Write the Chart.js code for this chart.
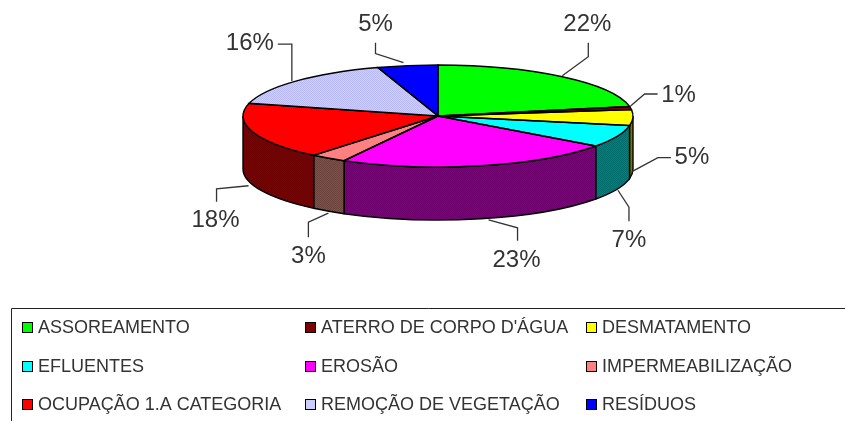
<!DOCTYPE html>
<html>
<head>
<meta charset="utf-8">
<title>Pizza 3D</title>
<script src="https://cdn.jsdelivr.net/npm/chart.js@4"></script>
<style>
  html, body { margin: 0; padding: 0; background: #fff; }
  canvas { display: block; }
</style>
</head>
<body>
<canvas id="chart" width="845" height="421"></canvas>
<script>
// data
const categories = ['ASSOREAMENTO', "ATERRO DE CORPO D'ÁGUA", 'DESMATAMENTO', 'EFLUENTES', 'EROSÃO',
                    'IMPERMEABILIZAÇÃO', 'OCUPAÇÃO 1.A CATEGORIA', 'REMOÇÃO DE VEGETAÇÃO', 'RESÍDUOS'];
const shares = [22, 1, 5, 7, 23, 3, 18, 16, 5];

// colours
const topColors  = ['#00ff00', '#800000', '#ffff00', '#00ffff', '#ff00ff', '#ff8080', '#ff0000', '#ccccff', '#0000ff'];
const wallColors = ['#008000', '#400000', '#808000', '#008080', '#800080', '#805048', '#800000', '#666680', '#000080'];

// 3D look of the pie
const CX = 438, CY = 116, RX = 195, RY = 51, DEPTH = 53;

// leader line and label offsets, relative to the rim point of each slice
const leaders = [
    { pts: [[0, -1], [26, -20], [26, -34]],  label: [25, -52] },
    { pts: [[0, -2], [14, -14], [27, -14]],  label: [48, -13] },
    { pts: [[-1, 1], [25, -13], [38, -13]],  label: [59, -13] },
    { pts: [[1, 1], [12, 18], [12, 32]],     label: [12, 51] },
    { pts: [[8, 1], [37, 9], [37, 22]],      label: [36, 42] },
    { pts: [[0, 2], [-20, 11], [-20, 26]],   label: [-20, 45] },
    { pts: [[-4, 1], [-36, 4], [-36, 17]],   label: [-37, 36] },
    { pts: [[-4, 0], [-4, -37], [-18, -37]], label: [-46, -38] },
    { pts: [[-4, -3], [-32, -12], [-32, -23]], label: [-32, -41] }
];

const legendCols = [22, 305, 586];
const legendRows = [327, 366, 404];

// small 2x2 checker, the old chart has dithered fills
function dither(a, b) {
    const c = document.createElement('canvas');
    c.width = c.height = 2;
    const g = c.getContext('2d');
    g.fillStyle = a;
    g.fillRect(0, 0, 2, 2);
    g.fillStyle = b;
    g.fillRect(0, 0, 1, 1);
    g.fillRect(1, 1, 1, 1);
    return g.createPattern(c, 'repeat');
}

function darker(hex) {
    const n = parseInt(hex.slice(1), 16);
    const f = v => Math.round(v * 0.85);
    return 'rgb(' + f(n >> 16) + ',' + f((n >> 8) & 255) + ',' + f(n & 255) + ')';
}

const pie3d = {
    id: 'pie3d',
    beforeDatasetsDraw(chart) {
        const ctx = chart.ctx;
        const arcs = chart.getDatasetMeta(0).data;
        // walls, only the front half can be seen
        arcs.forEach((arc, i) => {
            const a = Math.max(arc.startAngle, 0);
            const b = Math.min(arc.endAngle, Math.PI);
            if (b <= a) return;
            ctx.beginPath();
            ctx.ellipse(CX, CY, RX, RY, 0, a, b);
            ctx.ellipse(CX, CY + DEPTH, RX, RY, 0, b, a, true);
            ctx.closePath();
            ctx.fillStyle = dither(wallColors[i], darker(wallColors[i]));
            ctx.fill();
            ctx.strokeStyle = '#000';
            ctx.lineWidth = 1.4;
            ctx.stroke();
        });
        // squash the library's pie into the top face
        const first = arcs[0];
        ctx.save();
        ctx.translate(CX, CY);
        ctx.scale(RX / first.outerRadius, RY / first.outerRadius);
        ctx.translate(-first.x, -first.y);
    },
    afterDatasetsDraw(chart) {
        const ctx = chart.ctx;
        ctx.restore();
        const arcs = chart.getDatasetMeta(0).data;
        ctx.strokeStyle = '#000';
        ctx.lineWidth = 1.4;
        arcs.forEach((arc, i) => {
            ctx.beginPath();
            ctx.moveTo(CX, CY);
            ctx.ellipse(CX, CY, RX, RY, 0, arc.startAngle, arc.endAngle);
            ctx.closePath();
            if (categories[i].startsWith('REMOÇÃO')) {
                ctx.fillStyle = dither('#ccccff', '#bcbcf4');
                ctx.fill();
            }
            ctx.stroke();
        });

        // percent labels with leader lines
        ctx.font = '24px "Liberation Sans"';
        ctx.textAlign = 'center';
        ctx.textBaseline = 'middle';
        ctx.lineWidth = 1.3;
        arcs.forEach((arc, i) => {
            const mid = (arc.startAngle + arc.endAngle) / 2;
            const x = CX + RX * Math.cos(mid);
            let y = CY + RY * Math.sin(mid);
            if (Math.sin(mid) > 0) y += DEPTH;
            const l = leaders[i];
            ctx.beginPath();
            l.pts.forEach((p, k) => {
                if (k === 0) ctx.moveTo(x + p[0], y + p[1]);
                else ctx.lineTo(x + p[0], y + p[1]);
            });
            ctx.strokeStyle = '#333';
            ctx.stroke();
            ctx.fillStyle = '#333';
            ctx.fillText(shares[i] + '%', x + l.label[0], y + l.label[1]);
        });
    },
    afterDraw(chart) {
        const ctx = chart.ctx;
        // legend frame, runs off the picture on the right and bottom
        ctx.strokeStyle = '#222';
        ctx.lineWidth = 1;
        ctx.beginPath();
        ctx.moveTo(11.5, 421);
        ctx.lineTo(11.5, 308.5);
        ctx.lineTo(845, 308.5);
        ctx.stroke();

        ctx.font = '18px "Liberation Sans"';
        ctx.textAlign = 'left';
        ctx.textBaseline = 'middle';
        categories.forEach((name, i) => {
            const x = legendCols[i % 3];
            const y = legendRows[Math.floor(i / 3)];
            ctx.fillStyle = topColors[i];
            ctx.fillRect(x, y - 5, 11, 11);
            ctx.strokeStyle = '#000';
            ctx.strokeRect(x + 0.5, y - 4.5, 10, 10);
            ctx.fillStyle = '#333';
            ctx.fillText(name, x + 16, y + 1);
        });
    }
};

new Chart(document.getElementById('chart').getContext('2d'), {
    type: 'pie',
    data: {
        labels: categories,
        datasets: [{
            data: shares,
            backgroundColor: topColors,
            borderWidth: 0,
            hoverOffset: 0,
            clip: false
        }]
    },
    options: {
        responsive: false,
        animation: false,
        layout: { padding: { left: 243, right: 212, top: 0, bottom: 31 } },
        plugins: { legend: { display: false }, tooltip: { enabled: false } }
    },
    plugins: [pie3d]
});
</script>
</body>
</html>
